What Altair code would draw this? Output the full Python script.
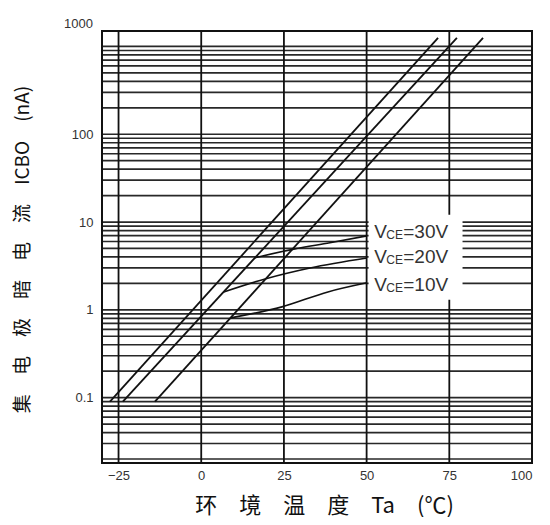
import altair as alt
import pandas as pd

# ---- data ----
# horizontal grid levels (nA), log grid
grid_levels = [0.02, 0.03, 0.04, 0.05, 0.06, 0.07, 0.08, 0.09,
               0.1, 0.2, 0.3, 0.4, 0.5, 0.6, 0.7, 0.8, 0.9,
               1, 2, 3, 4, 5, 6, 7, 8, 9,
               10, 20, 30, 40, 50, 60, 70, 80, 90,
               100, 200, 300, 400, 500, 600, 700, 800, 900, 1000]
vgrid_temps = [-25, 0, 25, 50, 75]

# three steep ICBO lines (straight on log scale)
steep_names = ["A", "B", "C"]
steep_t_start = [-27.6, -23.7, -14.0]
steep_t_end = [71.6, 77.3, 85.2]
steep_i_start = [0.09, 0.09, 0.09]
steep_i_end = [1250, 1250, 1250]

# VCE curves
vce30_t = [16.2, 28.3, 38.9, 50.1]
vce30_i = [3.91, 4.95, 5.8, 6.96]
vce20_t = [6.8, 19.3, 32.9, 50.1]
vce20_i = [1.6, 2.25, 3.0, 3.9]
vce10_t = [8.9, 24.4, 38.3, 50.1]
vce10_i = [0.81, 1.08, 1.6, 2.03]

label_values = ["=30V", "=20V", "=10V"]
label_t = [52.3, 52.3, 52.3]
label_i = [7.7, 4.0, 1.93]

y_ticks = [0.1, 1, 10, 100]
x_ticks = [-25, 0, 25, 50, 75, 100]
y_top = 1500
y_bottom = 0.018

# ---- tables ----
hgrid = pd.DataFrame({"i": grid_levels})
vgrid = pd.DataFrame({"t": vgrid_temps})
steep_rows = []
for n, t0, t1, i0, i1 in zip(steep_names, steep_t_start, steep_t_end, steep_i_start, steep_i_end):
    steep_rows.append({"s": n, "t": t0, "i": i0, "o": 0})
    steep_rows.append({"s": n, "t": t1, "i": i1, "o": 1})
steep = pd.DataFrame(steep_rows)
vce_rows = []
for name, ts, is_ in [("30", vce30_t, vce30_i), ("20", vce20_t, vce20_i), ("10", vce10_t, vce10_i)]:
    for k, (t, i) in enumerate(zip(ts, is_)):
        vce_rows.append({"s": name, "t": t, "i": i, "o": k})
vce = pd.DataFrame(vce_rows)
labels = pd.DataFrame({"t": label_t, "i": label_i, "txt": label_values})
box = pd.DataFrame({"t": [50.6], "t2": [79.0], "i": [1.3], "i2": [12.1]})
top_label = pd.DataFrame({"i": [y_top], "txt": ["1000"]})

xs = alt.Scale(domain=[-30, 100], nice=False, zero=False)
ys = alt.Scale(type="log", domain=[y_bottom, y_top], nice=False)

x_axis = alt.Axis(values=x_ticks, format="d", title="环　境　温　度　Ta　(℃)",
                  titleFont="Noto Sans CJK SC", titleFontSize=22, titleFontWeight="normal",
                  titleX=222, titleY=42, titleBaseline="middle", titleColor="#111",
                  labelFont="Liberation Sans", labelFontSize=13, labelColor="#333",
                  labelPadding=6, ticks=False, domain=False, grid=False)
y_axis = alt.Axis(values=y_ticks, format=".1~f", title="集　电　极　暗　电　流　ICBO　(nA)",
                  titleFont="Noto Sans CJK SC", titleFontSize=19, titleFontWeight="normal",
                  titleX=-80, titleY=218, titleAngle=-90, titleAlign="center",
                  titleBaseline="middle", titleColor="#111",
                  labelFont="Liberation Sans", labelFontSize=13, labelColor="#333",
                  labelPadding=9, ticks=False, domain=False, grid=False)

hrules = alt.Chart(hgrid).mark_rule(color="#111", strokeWidth=1.7, opacity=0.9).encode(
    y=alt.Y("i:Q", scale=ys, axis=y_axis))
vrules = alt.Chart(vgrid).mark_rule(color="#111", strokeWidth=1.8).encode(
    x=alt.X("t:Q", scale=xs, axis=x_axis))
white = alt.Chart(box).mark_rect(color="white").encode(
    x=alt.X("t:Q", scale=xs), x2="t2:Q", y=alt.Y("i:Q", scale=ys), y2="i2:Q")
steep_lines = alt.Chart(steep).mark_line(color="#111", strokeWidth=1.8).encode(
    x=alt.X("t:Q", scale=xs), y=alt.Y("i:Q", scale=ys), detail="s:N", order="o:Q")
vce_lines = alt.Chart(vce).mark_line(color="#111", strokeWidth=1.6, interpolate="monotone").encode(
    x=alt.X("t:Q", scale=xs), y=alt.Y("i:Q", scale=ys), detail="s:N", order="o:Q")
txt_v = alt.Chart(labels).mark_text(align="left", baseline="middle", font="Liberation Sans",
                                    fontSize=19, color="#333").encode(
    x=alt.X("t:Q", scale=xs), y=alt.Y("i:Q", scale=ys), text=alt.value("V"))
txt_ce = alt.Chart(labels).mark_text(align="left", baseline="middle", font="Liberation Sans",
                                     fontSize=12, color="#333", dx=12, dy=3).encode(
    x=alt.X("t:Q", scale=xs), y=alt.Y("i:Q", scale=ys), text=alt.value("CE"))
txt_rest = alt.Chart(labels).mark_text(align="left", baseline="middle", font="Liberation Sans",
                                       fontSize=19, color="#333", dx=29).encode(
    x=alt.X("t:Q", scale=xs), y=alt.Y("i:Q", scale=ys), text="txt:N")
top_txt = alt.Chart(top_label).mark_text(align="right", baseline="middle", font="Liberation Sans",
                                         fontSize=13, color="#333", dy=-7).encode(
    x=alt.value(-9), y=alt.Y("i:Q", scale=ys), text="txt:N")

chart = alt.layer(hrules, vrules, white, steep_lines, vce_lines, txt_v, txt_ce, txt_rest, top_txt).properties(
    width=430, height=432,
    autosize=alt.AutoSizeParams(type="none"),
    padding={"left": 94, "top": 23, "right": 10, "bottom": 54},
    background="white",
).configure_view(stroke="#111", strokeWidth=2)

chart.save("out.html", embed_options={"renderer": "svg", "actions": False})
